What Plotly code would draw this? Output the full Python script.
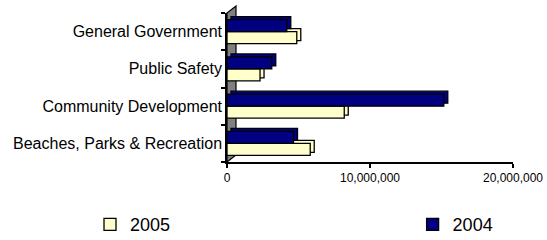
import plotly.graph_objects as go

categories = ["Beaches, Parks & Recreation", "Community Development", "Public Safety", "General Government"]
values_2005 = [5820000, 8200000, 2310000, 4880000]
values_2004 = [4650000, 15160000, 3130000, 4180000]
x_tick_vals = [0, 10000000, 20000000]
x_tick_text = ["0", "10,000,000", "20,000,000"]

C2005 = "#FFFFCC"
C2004 = "#000080"

W, H = 547, 240
L, R, T, B = 227, 34, 13, 78
pw = W - L - R
ph = H - T - B
xmax = 20000000
px_x = xmax / pw
px_y = 4.0 / ph
dx, dy = 4, 3

fig = go.Figure()

# depth (shadow) bars on the main axes, shifted via axis range
for name, vals, col in [("2005", values_2005, C2005), ("2004", values_2004, C2004)]:
    fig.add_trace(go.Bar(y=categories, x=vals, orientation="h", name=name,
                         marker=dict(color=col, line=dict(color="black", width=1.3)),
                         showlegend=False, xaxis="x", yaxis="y", hoverinfo="skip"))

# front bars on overlay axes
fig.add_trace(go.Bar(y=categories, x=values_2005, orientation="h", name="2005",
                     marker=dict(color=C2005, line=dict(color="black", width=1.3)),
                     xaxis="x2", yaxis="y2", legend="legend"))
fig.add_trace(go.Bar(y=categories, x=values_2004, orientation="h", name="2004",
                     marker=dict(color=C2004, line=dict(color="black", width=1.3)),
                     xaxis="x2", yaxis="y2", legend="legend2"))

font = "Liberation Sans, Arial, sans-serif"

fig.update_layout(
    width=W, height=H,
    margin=dict(l=L, r=R, t=T, b=B, pad=0, autoexpand=False),
    paper_bgcolor="white", plot_bgcolor="rgba(0,0,0,0)",
    barmode="group", bargap=0.36, bargroupgap=0.0,
    font=dict(family=font, color="black"),
    xaxis=dict(range=[-dx * px_x, xmax - dx * px_x], showticklabels=False, ticks="",
               showgrid=False, zeroline=False, showline=False, fixedrange=True),
    yaxis=dict(range=[-0.5 - dy * px_y, 3.5 - dy * px_y], showticklabels=False, ticks="",
               showgrid=False, zeroline=False, showline=False, type="category",
               categoryorder="array", categoryarray=categories),
    xaxis2=dict(overlaying="x", range=[0, xmax], tickvals=x_tick_vals, ticktext=x_tick_text,
                showgrid=False, zeroline=False, showline=True, linecolor="black", linewidth=1.5,
                ticks="outside", ticklen=4, tickwidth=1.5, tickcolor="black",
                tickfont=dict(size=12, family=font, color="black"), side="bottom", anchor="y2"),
    yaxis2=dict(overlaying="y", range=[-0.5, 3.5], type="category",
                categoryorder="array", categoryarray=categories,
                showgrid=False, zeroline=False, showline=True, linecolor="black", linewidth=1.5,
                ticks="outside", ticklen=4, tickwidth=1.5, tickcolor="black", tickson="boundaries",
                tickfont=dict(size=16, family=font, color="black"), side="left", anchor="x2"),
    legend=dict(x=-0.479, y=-0.42, xanchor="left", yanchor="middle", orientation="h",
                font=dict(size=18, family=font, color="black"), bgcolor="rgba(0,0,0,0)",
                itemwidth=30),
    legend2=dict(x=0.649, y=-0.42, xanchor="left", yanchor="middle", orientation="h",
                 font=dict(size=18, family=font, color="black"), bgcolor="rgba(0,0,0,0)",
                 itemwidth=30),
)

# gray left wall (decoration)
wx = 9 / pw
wy = 7 / ph
fig.add_shape(type="path", xref="paper", yref="paper",
              path=f"M 0 0 L {wx} {wy} L {wx} {1 + wy} L 0 1 Z",
              fillcolor="#808080", line=dict(color="black", width=1.2), layer="below")

fig.write_html("out.html", config={"displayModeBar": False},
               post_script="document.body.style.margin='0';document.body.style.overflow='hidden';")
